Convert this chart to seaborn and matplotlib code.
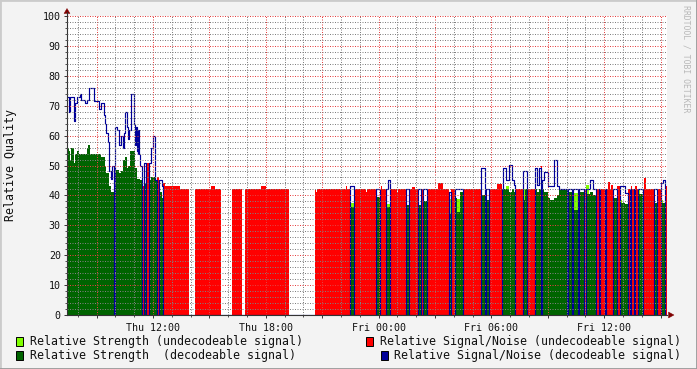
import numpy as np
import matplotlib
matplotlib.use("Agg")
import matplotlib.pyplot as plt
import seaborn as sns
from matplotlib.patches import Rectangle, Polygon
from matplotlib.lines import Line2D
from matplotlib.ticker import MultipleLocator, FuncFormatter

# ---------------- data (time in hours since Thu 00:00) ----------------
data_end = 39.33

# Relative Signal/Noise (decodeable signal) - blue step line, 0 where not decodeable
blue_t = [7.43, 7.52, 7.60, 7.78, 7.86, 7.96, 8.13, 8.17, 8.37, 8.49, 8.61, 8.88, 9.14, 9.25,
          9.38, 9.46, 9.53, 9.61, 9.68, 9.75, 9.80, 9.91, 9.99, 10.07, 10.19, 10.30, 10.42,
          10.47, 10.54, 10.60, 10.67, 10.71, 10.83, 11.01, 11.04, 11.08, 11.13, 11.19, 11.23,
          11.27, 11.32, 11.40, 11.54, 11.64, 11.77, 11.88, 12.02, 12.09, 12.20, 12.30, 12.46,
          12.55, 22.48, 22.68, 23.88, 24.06, 24.41, 24.50, 24.60, 25.46, 25.64, 26.08, 26.26,
          26.38, 26.56, 27.73, 27.87, 28.06, 28.51, 29.47, 29.65, 29.72, 29.89, 30.56, 30.64,
          30.78, 30.96, 31.09, 31.21, 31.26, 31.70, 31.87, 32.32, 32.45, 32.55, 32.64, 32.70,
          32.80, 33.03, 33.35, 33.48, 33.62, 34.01, 34.09, 34.27, 34.36, 34.59, 34.66, 34.94,
          35.02, 35.25, 35.42, 35.55, 35.72, 35.79, 36.04, 36.11, 36.48, 36.66, 36.84, 37.11,
          37.28, 37.37, 37.43, 37.60, 37.66, 37.82, 38.08, 38.67, 38.80, 39.03, 39.12, 39.21]
blue_v = [73, 68, 73, 65, 71, 73, 74, 72, 71, 72, 76, 71.5, 69, 71,
          67, 64, 61, 58, 48, 45.5, 50, 0, 63, 62, 57, 60, 56,
          61, 68, 63, 59, 62, 74, 64, 57, 63, 55, 54, 62,
          54, 50, 0, 51, 0, 51, 56, 60, 45, 0, 45, 43,
          0, 43, 0, 42, 0, 42, 45.2, 0, 42, 0, 42, 0,
          42, 0, 41, 0, 42, 0, 49, 0, 42, 0, 42, 49,
          45, 50.2, 45, 43.5, 0, 48.3, 0, 49, 43.5, 49, 0, 45,
          47.8, 43, 51.8, 43, 42, 0, 42, 0, 42, 0, 42, 0,
          42, 45, 42, 0, 42, 0, 42, 0, 42, 0, 43, 40.7,
          0, 42, 0, 42, 0, 42, 0, 42, 0, 44, 45, 0]

# Relative Strength (decodeable signal) - dark green area
dgreen_t = [7.43, 7.52, 7.60, 7.65, 7.78, 7.86, 7.96, 8.05, 8.49, 8.57, 8.66, 9.25, 9.43, 9.53,
            9.64, 9.75, 9.91, 9.99, 10.18, 10.30, 10.42, 10.54, 10.60, 10.67, 10.78, 11.04,
            11.13, 11.32, 11.40, 11.54, 11.64, 11.77, 11.88, 12.09, 12.20, 12.30, 12.46, 12.55,
            22.48, 22.68, 23.88, 24.06, 24.41, 24.60, 25.46, 25.64, 26.08, 26.26, 26.38, 26.56,
            27.73, 27.87, 28.06, 28.15, 28.33, 28.51, 29.47, 29.65, 29.72, 29.89, 30.56, 30.64,
            30.96, 31.09, 31.21, 31.26, 31.70, 31.77, 31.87, 32.32, 32.45, 32.55, 32.64, 32.70,
            32.80, 33.03, 33.12, 33.35, 33.48, 33.62, 34.01, 34.09, 34.27, 34.36, 34.59, 34.66,
            34.94, 35.02, 35.25, 35.42, 35.55, 35.72, 35.79, 36.04, 36.11, 36.48, 36.66, 36.84,
            37.11, 37.28, 37.37, 37.43, 37.60, 37.66, 37.82, 38.08, 38.67, 38.80, 39.03, 39.21]
dgreen_v = [56, 55, 52, 56, 51, 54, 55, 54, 56, 57, 54, 53, 49.5, 47.5,
            43, 41, 0, 48.5, 47.5, 48, 52, 53, 49, 50, 55, 49,
            45.5, 45, 0, 44, 0, 45, 46, 45, 0, 41, 39, 0,
            36.2, 0, 39.4, 0, 36, 0, 36.9, 0, 36.9, 0, 38, 0,
            33.8, 0, 39, 34.6, 41, 0, 40, 0, 38.5, 0, 41, 42,
            41, 42, 41, 0, 38.4, 42, 0, 42, 41, 42, 0, 42,
            41, 39, 38.5, 39, 40, 42, 0, 41, 0, 35, 0, 41,
            0, 40.5, 41, 40, 0, 36, 0, 38, 0, 39, 0, 37.3,
            37, 0, 38, 0, 38, 0, 40.5, 0, 37.3, 0, 37.3, 0]

# Relative Signal/Noise (undecodeable signal) - red area
red_t = [7.43, 11.40, 11.54, 11.64, 11.77, 12.20, 12.30, 12.55, 12.66, 13.44, 13.91, 14.23,
         15.08, 15.30, 15.62, 16.20, 16.73, 16.91, 17.74, 18.01, 19.23, 20.62, 20.67, 20.72,
         22.27, 22.34, 22.48, 22.68, 23.34, 23.39, 23.88, 24.06, 24.13, 24.18, 24.41, 24.60,
         24.97, 25.03, 25.46, 25.64, 25.76, 25.94, 26.08, 26.26, 26.38, 26.56, 27.18, 27.44,
         27.73, 27.87, 28.06, 28.51, 29.47, 29.65, 29.72, 29.89, 30.29, 30.56, 31.26, 31.70,
         31.87, 32.32, 32.64, 32.70, 34.01, 34.09, 34.27, 34.36, 34.59, 34.66, 34.94, 35.02,
         35.55, 35.72, 35.79, 36.04, 36.11, 36.22, 36.31, 36.36, 36.48, 36.66, 36.84, 37.28,
         37.37, 37.43, 37.48, 37.60, 37.66, 37.72, 37.82, 38.08, 38.14, 38.23, 38.67, 38.80,
         39.03, 39.21]
red_v = [0, 43, 0, 50.7, 0, 46, 0, 44, 43, 42, 0, 42,
         43, 42, 0, 42, 0, 42, 43, 42, 0, 42, 41, 42,
         43, 42, 0, 42, 41, 42, 0, 42, 43, 42, 0, 42,
         41, 42, 0, 42, 42.7, 42, 0, 42, 0, 42, 44.2, 42,
         0, 42, 0, 42, 0, 42, 0, 42, 43.7, 0, 42, 0,
         42, 0, 50, 0, 42, 0, 42, 0, 42, 0, 42, 0,
         42, 0, 42, 0, 42, 44.4, 42, 43.5, 0, 43, 0, 42,
         0, 43, 42, 0, 43, 42, 0, 42, 45.7, 42, 0, 42,
         0, 43]

# Relative Strength (undecodeable signal) - light green area
lgreen_t = [7.43, 22.48, 22.68, 24.41, 24.60, 27.73, 27.87, 28.15, 28.33, 30.78, 30.96,
            31.70, 31.77, 34.36, 34.59, 35.02, 35.19, 36.84, 36.93, 37.82, 37.91, 39.03, 39.12]
lgreen_v = [0, 37.3, 0, 37, 0, 38.8, 0, 38.8, 0, 43, 0,
            42.3, 0, 40.7, 0, 43.5, 0, 38.5, 0, 42, 0, 38.5, 0]

tick_hours = [12, 18, 24, 30, 36]
tick_labels = ["Thu 12:00", "Thu 18:00", "Fri 00:00", "Fri 06:00", "Fri 12:00"]

legend_labels = ["Relative Strength (undecodeable signal)",
                 "Relative Strength  (decodeable signal)",
                 "Relative Signal/Noise (undecodeable signal)",
                 "Relative Signal/Noise (decodeable signal)"]
c_lgreen, c_dgreen, c_red, c_blue = "#80FF00", "#006400", "#FF0000", "#000099"

# ---------------- style ----------------
sns.set_theme(style="white")
MONO = ["DejaVu Sans Mono"]
plt.rcParams["font.family"] = MONO

W, H = 697, 369
fig = plt.figure(figsize=(W / 100, H / 100), dpi=100, facecolor="#F3F3F3")


def P(x, y):
    return (x / W, 1 - y / H)


ax = fig.add_axes([67 / W, 1 - 315 / H, 600 / W, 299 / H])
ax.set_facecolor("white")


def steps(t, v):
    x = np.append(np.asarray(t, float), data_end)
    y = np.append(np.asarray(v, float), v[-1])
    return x, y


x, y = steps(lgreen_t, lgreen_v)
ax.fill_between(x, 0, y, step="post", color=c_lgreen, linewidth=0, zorder=1)
x, y = steps(dgreen_t, dgreen_v)
ax.fill_between(x, 0, y, step="post", color=c_dgreen, linewidth=0, zorder=1.1)
x, y = steps(red_t, red_v)
ax.fill_between(x, 0, y, step="post", color=c_red, linewidth=0, zorder=1.2)
x, y = steps(blue_t, blue_v)
sns.lineplot(x=x, y=y, ax=ax, color=c_blue, linewidth=0.85, drawstyle="steps-post",
             estimator=None, sort=False, legend=False, zorder=1.5)

ax.set_xlim(7.43, 39.34)
ax.set_ylim(0, 100)

# grid (dotted, drawn above the data like rrdtool)
ax.set_axisbelow(False)
ax.xaxis.set_major_locator(MultipleLocator(3))
ax.xaxis.set_minor_locator(MultipleLocator(1))
ax.yaxis.set_major_locator(MultipleLocator(10))
ax.yaxis.set_minor_locator(MultipleLocator(2))
lab = dict(zip(tick_hours, tick_labels))
ax.xaxis.set_major_formatter(FuncFormatter(lambda v, p: lab.get(int(round(v)), "")))
ax.yaxis.set_major_formatter(FuncFormatter(lambda v, p: f"{int(round(v))}"))
ax.grid(which="minor", color=(0.5, 0.5, 0.5, 0.32), linestyle=(0, (1, 1.5)),
        linewidth=0.72)
ax.grid(which="major", color=(0.9, 0.25, 0.25, 0.32), linestyle=(0, (1, 1.5)),
        linewidth=0.72)

for s in ["top", "right"]:
    ax.spines[s].set_visible(False)
for s in ["left", "bottom"]:
    ax.spines[s].set_color("#333333")
    ax.spines[s].set_linewidth(0.8)

ax.tick_params(axis="both", which="major", direction="out", length=2.5, width=0.7,
               color="#333333", labelsize=7.2, labelcolor="#111111", pad=2)
ax.tick_params(axis="both", which="minor", direction="out", length=1.2, width=0.6,
               color="#333333")
ax.tick_params(axis="x", which="major", pad=3)
ax.tick_params(left=True, bottom=True)
ax.tick_params(which="minor", left=True, bottom=True)
for t in ax.get_xticklabels() + ax.get_yticklabels():
    t.set_fontfamily(MONO)
ax.set_xlabel("")
ax.set_ylabel("")

# axis arrows
arrow_c = "#7F0000"
fig.add_artist(Line2D([P(67, 16)[0], P(67, 12)[0]], [P(67, 16)[1], P(67, 12)[1]],
                      color="#333333", linewidth=0.8))
fig.add_artist(Polygon([P(64, 13.5), P(70, 13.5), P(67, 8.5)], closed=True,
                       facecolor=arrow_c, edgecolor=arrow_c, linewidth=0.3,
                       transform=fig.transFigure))
fig.add_artist(Polygon([P(668.5, 312), P(668.5, 318), P(674, 315)], closed=True,
                       facecolor=arrow_c, edgecolor=arrow_c, linewidth=0.3,
                       transform=fig.transFigure))

# texts
fig.text(*P(11, 165), "Relative Quality", rotation=90, ha="center", va="center",
         fontsize=8.4, color="#111111", family=MONO)
fig.text(*P(686, 5), "RRDTOOL / TOBI OETIKER", rotation=270, ha="center", va="top",
         fontsize=5.9, color="#B8B8B8", family=MONO)

# legend
def swatch(x0, yc, color):
    fig.add_artist(Rectangle(P(x0, yc + 4.5), 7.5 / W, 8.5 / H, transform=fig.transFigure,
                             facecolor=color, edgecolor="black", linewidth=0.7))


swatch(15.5, 341, c_lgreen)
fig.text(*P(30, 341), legend_labels[0], ha="left", va="center", fontsize=8.4,
         color="#111111", family=MONO)
swatch(15.5, 355, c_dgreen)
fig.text(*P(30, 355), legend_labels[1], ha="left", va="center", fontsize=8.4,
         color="#111111", family=MONO)
swatch(365.5, 341, c_red)
fig.text(*P(681, 341), legend_labels[2], ha="right", va="center", fontsize=8.4,
         color="#111111", family=MONO)
swatch(380.5, 355, c_blue)
fig.text(*P(681, 355), legend_labels[3], ha="right", va="center", fontsize=8.4,
         color="#111111", family=MONO)

# image frame shading
fig.add_artist(Line2D([0, 0, 1], [0, 1, 1], transform=fig.transFigure, color="#CBCBCB",
                      linewidth=2.0))
fig.add_artist(Line2D([0, 1, 1], [0, 0, 1], transform=fig.transFigure, color="#999999",
                      linewidth=2.0))

fig.savefig("out.png", dpi=100, facecolor=fig.get_facecolor())
